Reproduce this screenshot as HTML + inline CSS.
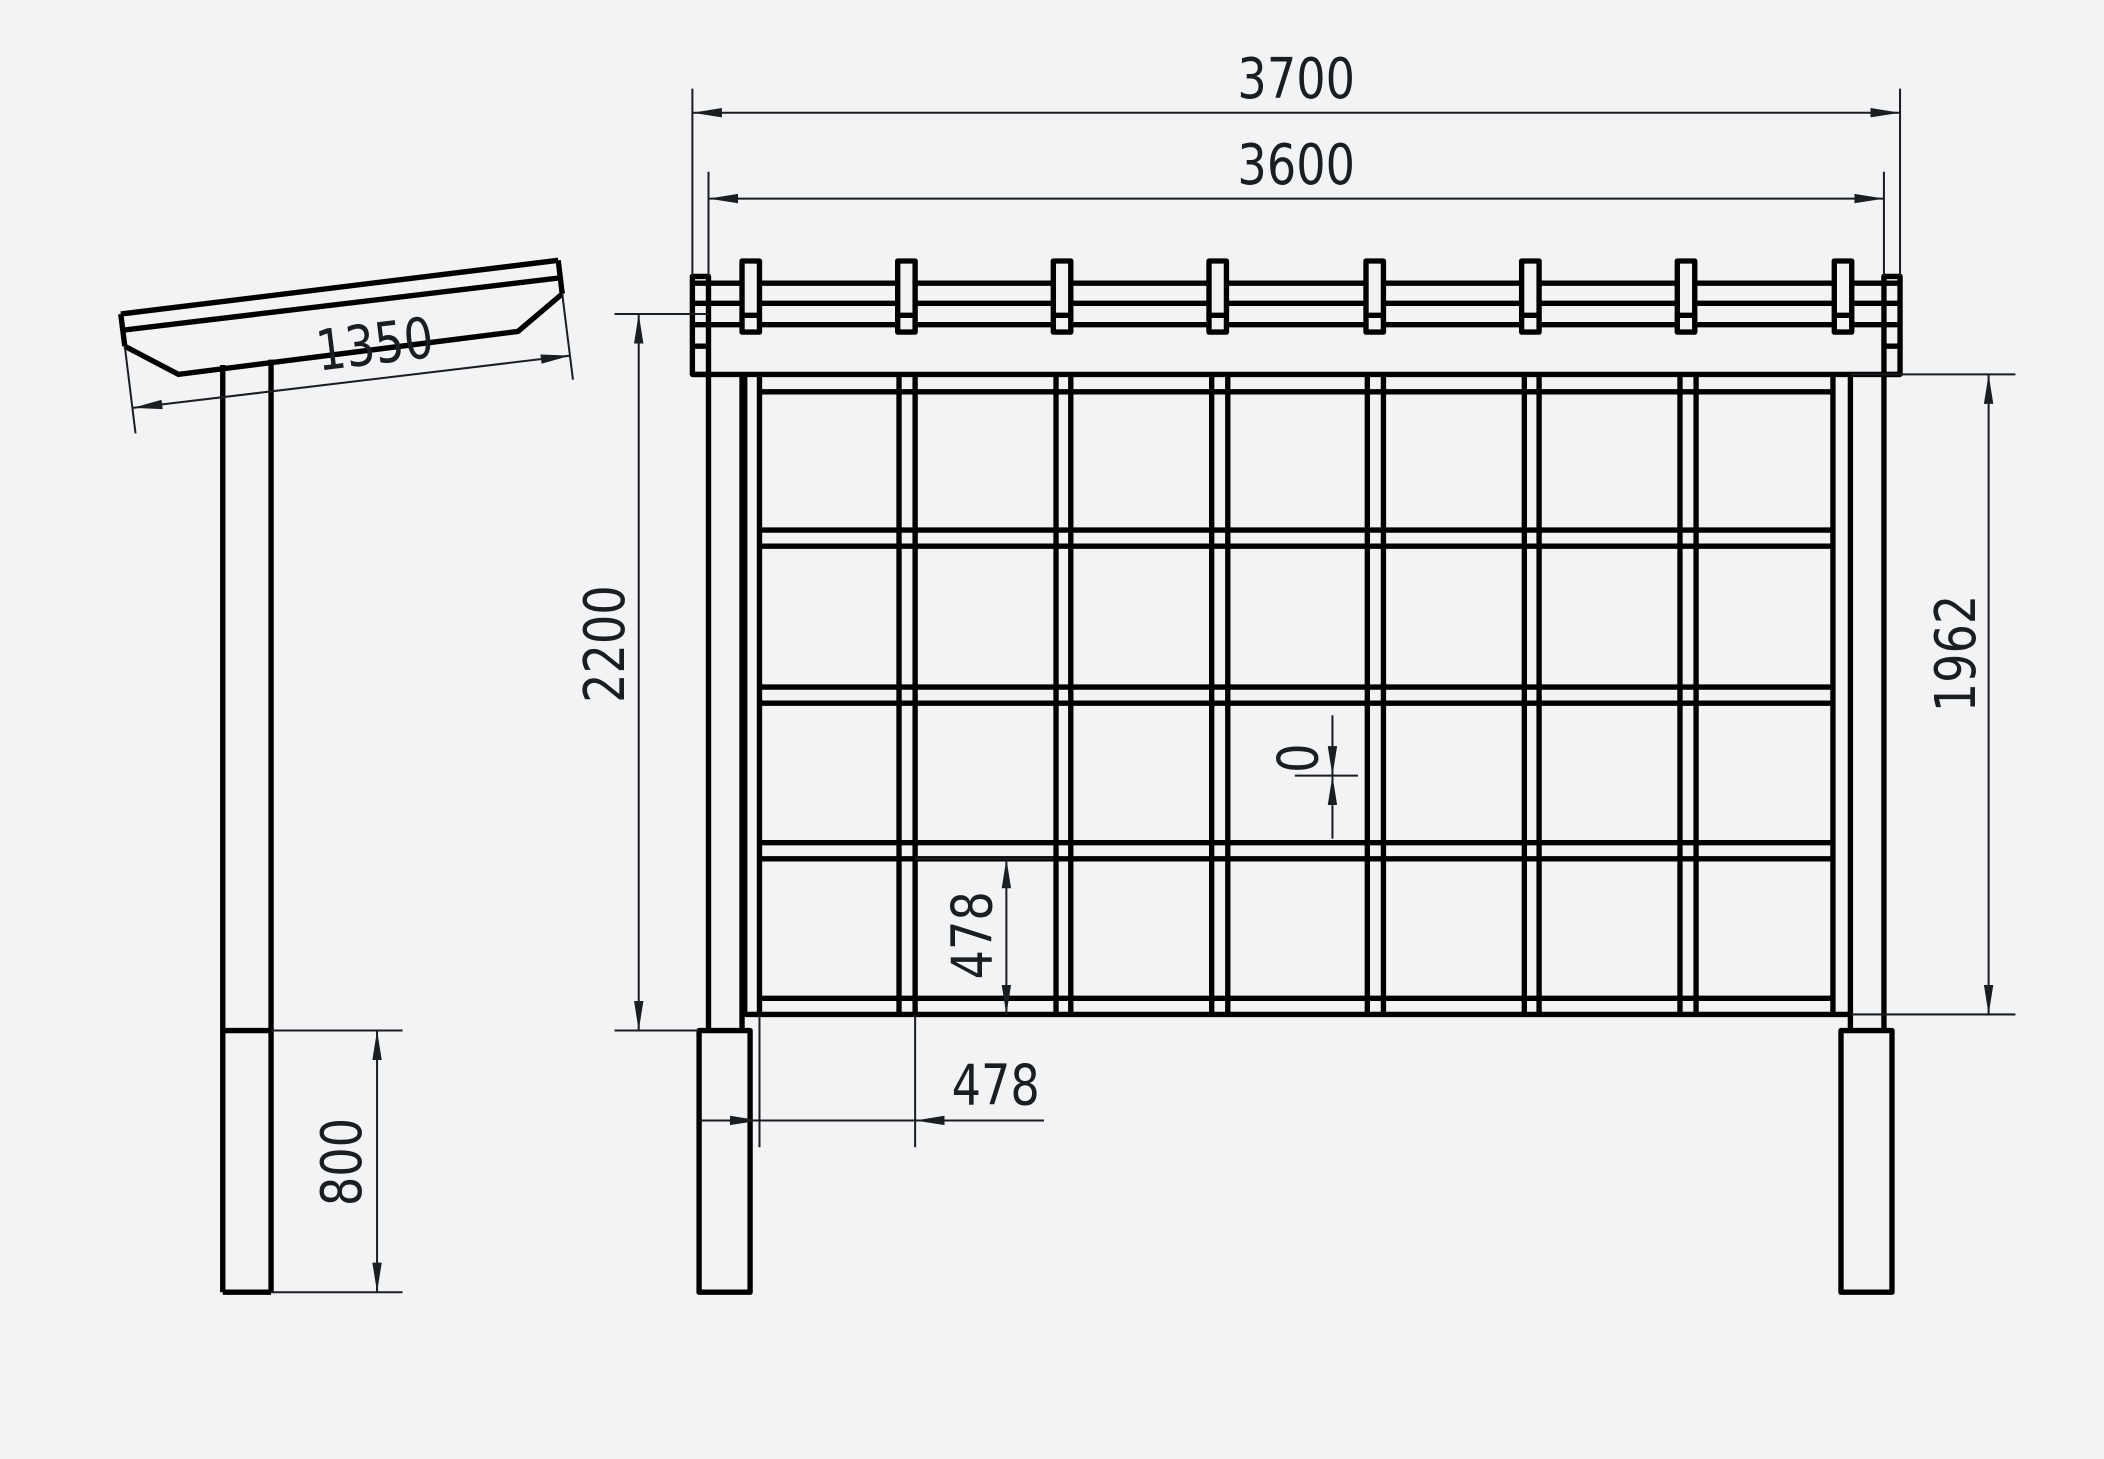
<!DOCTYPE html>
<html><head><meta charset="utf-8"><style>
html,body{margin:0;padding:0;background:#f2f3f5;}
svg{display:block}
text{font-family:"DejaVu Sans","Liberation Sans",sans-serif;fill:#1a1d22;font-weight:normal}
</style></head><body>
<svg width="2104" height="1459" viewBox="0 0 1568 1087.3" xmlns="http://www.w3.org/2000/svg">
<defs>
<marker id="a" viewBox="0 0 22 8" refX="22" refY="4" markerWidth="22" markerHeight="8" markerUnits="userSpaceOnUse" orient="auto-start-reverse">
<path d="M0,0.5 L22,4 L0,7.5 Z" fill="#1a1d22"/></marker>
</defs>
<rect width="1568" height="1088" fill="#f2f3f5"/>
<g stroke="#000" stroke-width="4" fill="none" stroke-linejoin="round">
<path d="M90,234 L416,194 M92,246 L418,207 M90,234 L93,258 M416,194 L419,219 M93,258 L133,279 L386,247 L419,219"/>
<path d="M166,272 V963 M202,268 V963 M166,768 H202 M166,963 H202"/>
<path d="M516,211 H1416 M516,226 H1416 M516,242 H1416"/>
<rect x="516" y="206" width="12" height="73"/>
<rect x="1404" y="206" width="12" height="73"/>
<path d="M516,279 H1416 M516,258 H528 M1404,258 H1416"/>
<g fill="#f2f3f5">
<rect x="553" y="194.5" width="13" height="53"/><rect x="669" y="194.5" width="13" height="53"/>
<rect x="785" y="194.5" width="13" height="53"/><rect x="901" y="194.5" width="13" height="53"/>
<rect x="1018" y="194.5" width="13" height="53"/><rect x="1134" y="194.5" width="13" height="53"/>
<rect x="1250" y="194.5" width="13" height="53"/><rect x="1367" y="194.5" width="13" height="53"/>
</g>
<path d="M553,235 H566 M669,235 H682 M785,235 H798 M901,235 H914 M1018,235 H1031 M1134,235 H1147 M1250,235 H1263 M1367,235 H1380"/>
<path d="M528,279 V768 M553,279 V768 M1379,279 V768 M1404,279 V768"/>
<path d="M555,279 V756 M566,279 V756 M670,279 V756 M682,279 V756 M787,279 V756 M798,279 V756 M903,279 V756 M915,279 V756 M1019,279 V756 M1031,279 V756 M1136,279 V756 M1147,279 V756 M1252,279 V756 M1264,279 V756 M1366,279 V756"/>
<path d="M566,292 H1366 M566,395 H1366 M566,407 H1366 M566,512 H1366 M566,524 H1366 M566,628 H1366 M566,640 H1366 M566,744 H1366 M553,756 H1379"/>
<rect x="521" y="768" width="38" height="195"/>
<rect x="1372" y="768" width="38" height="195"/>
</g>
<g stroke="#1a1d22" stroke-width="1.5" fill="none">
<path d="M516,66 V206 M1416,66 V206"/>
<line x1="516" y1="84" x2="1416" y2="84" marker-start="url(#a)" marker-end="url(#a)"/>
<path d="M528,128 V206 M1404,128 V206"/>
<line x1="528" y1="148" x2="1404" y2="148" marker-start="url(#a)" marker-end="url(#a)"/>
<path d="M458,234 H528 M458,768 H521"/>
<line x1="476" y1="234" x2="476" y2="768" marker-start="url(#a)" marker-end="url(#a)"/>
<path d="M1379,279 H1502 M1379,756 H1502"/>
<line x1="1482" y1="279" x2="1482" y2="756" marker-start="url(#a)" marker-end="url(#a)"/>
<path d="M202,768 H300 M202,963 H300"/>
<line x1="281" y1="768" x2="281" y2="963" marker-start="url(#a)" marker-end="url(#a)"/>
<path d="M965,578 H1012 M993,533 V556 M993,600 V625"/>
<line x1="993" y1="556" x2="993" y2="578" marker-end="url(#a)"/>
<line x1="993" y1="600" x2="993" y2="578" marker-end="url(#a)"/>
<path d="M682,640 H785"/>
<line x1="750" y1="640" x2="750" y2="756" marker-start="url(#a)" marker-end="url(#a)"/>
<path d="M566,756 V855 M682,756 V855 M682,835 H778 M521,835 H544"/>
<line x1="521" y1="835" x2="566" y2="835" marker-end="url(#a)"/>
<line x1="704" y1="835" x2="682" y2="835" marker-end="url(#a)"/>
<line x1="566" y1="835" x2="682" y2="835"/>
<path d="M93,258 L101,323 M419,219 L427,283"/>
<line x1="99" y1="304" x2="425" y2="265" marker-start="url(#a)" marker-end="url(#a)"/>
</g>
<g font-size="42">
<text transform="translate(966,73) scale(0.82,1)" text-anchor="middle">3700</text>
<text transform="translate(966,137) scale(0.82,1)" text-anchor="middle">3600</text>
<text transform="translate(742,823) scale(0.82,1)" text-anchor="middle">478</text>
<text transform="translate(465,480) rotate(-90) scale(0.82,1)" text-anchor="middle">2200</text>
<text transform="translate(1472,487) rotate(-90) scale(0.82,1)" text-anchor="middle">1962</text>
<text transform="translate(269,866) rotate(-90) scale(0.82,1)" text-anchor="middle">800</text>
<text transform="translate(739,697) rotate(-90) scale(0.82,1)" text-anchor="middle">478</text>
<text transform="translate(982,565) rotate(-90) scale(0.82,1)" text-anchor="middle">0</text>
<text transform="translate(281,271) rotate(-7) scale(0.82,1)" text-anchor="middle">1350</text>
</g>
</svg>
</body></html>
